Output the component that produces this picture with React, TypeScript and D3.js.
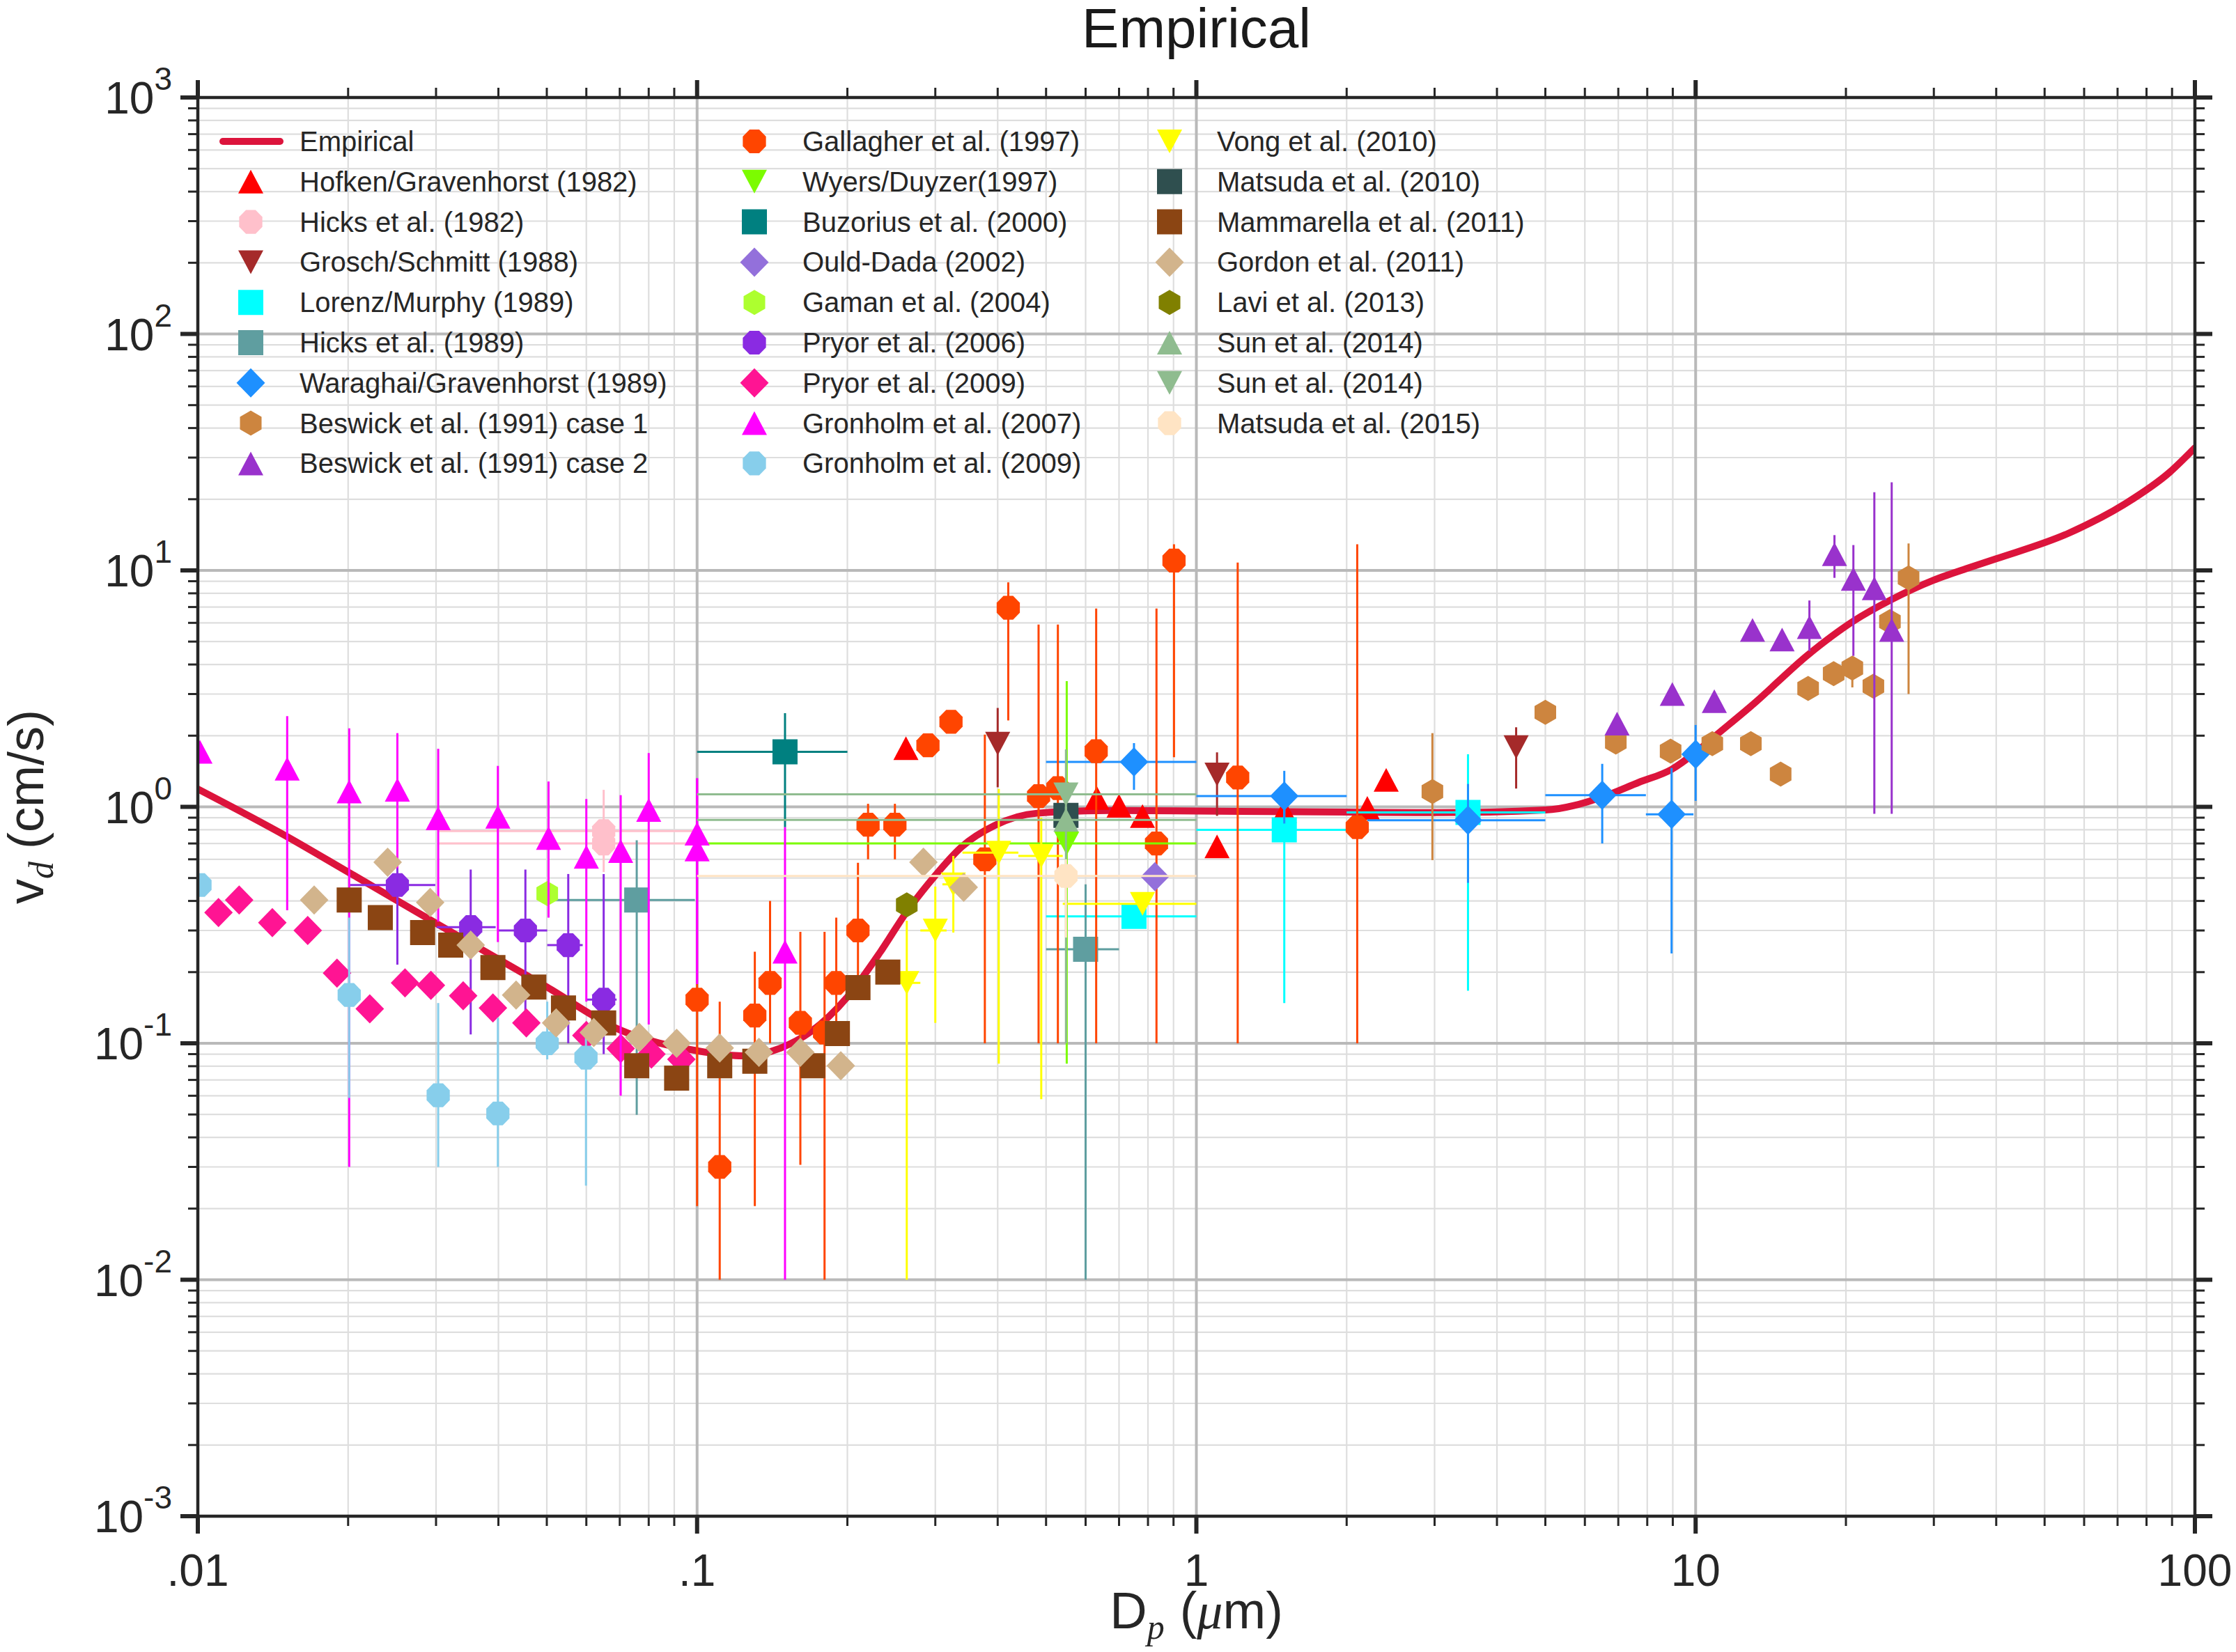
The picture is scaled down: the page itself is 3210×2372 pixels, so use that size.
import React from 'react';
import * as d3 from 'd3';

// ---------- data ----------
type Pt = { d: number; v: number; lo?: number; hi?: number; xl?: number; xr?: number };

const empiricalCurve: [number, number][] = [
  [0.01, 1.19], [0.0151, 0.748], [0.02, 0.53], [0.03, 0.322], [0.05, 0.173], [0.07, 0.114],
  [0.1, 0.093], [0.123, 0.0885], [0.147, 0.0955], [0.169, 0.112], [0.2, 0.157], [0.233, 0.244],
  [0.263, 0.36], [0.297, 0.5], [0.339, 0.678], [0.395, 0.835], [0.48, 0.94], [0.67, 0.965],
  [1, 0.96], [2, 0.95], [3, 0.945], [5, 0.97], [6.5, 1.1], [7.7, 1.27], [8.95, 1.44], [10, 1.7],
  [10.9, 1.98], [13, 2.7], [16.8, 4.4], [20.7, 6.1], [24.6, 7.5], [30, 9.1], [35, 10.2],
  [40, 11.2], [56, 14.4], [73, 19.3], [89, 26], [100, 33],
];

const hofken: Pt[] = [
  { d: 0.262, v: 1.77 }, { d: 0.632, v: 1.09 }, { d: 0.7, v: 1.01 }, { d: 0.78, v: 0.914 },
  { d: 1.1, v: 0.68 }, { d: 1.5, v: 0.96 }, { d: 2.2, v: 0.99 }, { d: 2.4, v: 1.3 },
];
const hicks1982: Pt[] = [
  { d: 0.065, v: 0.79, lo: 0.53, hi: 1.18, xl: 0.0304, xr: 0.1 },
  { d: 0.065, v: 0.7, xl: 0.0304, xr: 0.1 },
];
const grosch: Pt[] = [
  { d: 0.4, v: 1.85, lo: 1.21, hi: 2.62 },
  { d: 1.1, v: 1.37, lo: 0.916, hi: 1.7 },
  { d: 4.37, v: 1.79, lo: 1.195, hi: 2.17 },
];
const lorenz: Pt[] = [
  { d: 0.75, v: 0.344, xl: 0.5, xr: 1.0 },
  { d: 1.5, v: 0.8, lo: 0.148, hi: 1.0, xl: 1.0, xr: 2.0 },
  { d: 3.5, v: 0.947, lo: 0.167, hi: 1.67, xl: 2.0, xr: 5.0 },
];
const hicks1989: Pt[] = [
  { d: 0.0757, v: 0.404, lo: 0.0498, hi: 0.722, xl: 0.0516, xr: 0.099 },
  { d: 0.6, v: 0.25, lo: 0.01, hi: 0.47, xl: 0.5, xr: 0.7 },
];
const waraghai: Pt[] = [
  { d: 0.75, v: 1.55, lo: 1.18, hi: 1.86, xl: 0.5, xr: 1.0 },
  { d: 1.5, v: 1.11, lo: 0.85, hi: 1.42, xl: 1.0, xr: 2.0 },
  { d: 3.5, v: 0.877, lo: 0.477, hi: 1.25, xl: 2.2, xr: 5.0 },
  { d: 6.5, v: 1.12, lo: 0.7, hi: 1.52, xl: 5.0, xr: 7.95 },
  { d: 8.95, v: 0.93, lo: 0.24, hi: 1.46, xl: 7.95, xr: 9.9 },
  { d: 10.0, v: 1.67, lo: 1.06, hi: 2.22 },
];
const beswick1: Pt[] = [
  { d: 2.97, v: 1.16, lo: 0.595, hi: 2.05 }, { d: 5.0, v: 2.51 }, { d: 6.92, v: 1.88 },
  { d: 8.91, v: 1.72 }, { d: 10.8, v: 1.85 }, { d: 12.9, v: 1.85 }, { d: 14.8, v: 1.375 },
  { d: 16.8, v: 3.17 }, { d: 18.9, v: 3.66 }, { d: 20.6, v: 3.86, lo: 3.2, hi: 4.3 },
  { d: 22.7, v: 3.24 }, { d: 24.5, v: 6.07 }, { d: 26.7, v: 9.3, lo: 3.0, hi: 13 },
];
const beswick2: Pt[] = [
  { d: 6.96, v: 2.25 }, { d: 8.98, v: 3.0 }, { d: 10.9, v: 2.8 }, { d: 13.0, v: 5.6 },
  { d: 14.9, v: 5.1 }, { d: 16.9, v: 5.75, lo: 4.56, hi: 7.46 },
  { d: 18.97, v: 11.7, lo: 9.3, hi: 14.1 }, { d: 20.7, v: 9.2, lo: 4.35, hi: 12.8 },
  { d: 22.8, v: 8.4, lo: 0.935, hi: 21.4 }, { d: 24.7, v: 5.6, lo: 0.935, hi: 23.6 },
];
const gallagher: Pt[] = [
  { d: 0.1, v: 0.153, lo: 0.0205, hi: 0.178 }, { d: 0.111, v: 0.03, lo: 0.01, hi: 0.15 },
  { d: 0.1305, v: 0.131, lo: 0.0205, hi: 0.244 }, { d: 0.14, v: 0.18, lo: 0.1, hi: 0.4 },
  { d: 0.161, v: 0.122, lo: 0.0306, hi: 0.296 }, { d: 0.18, v: 0.111, lo: 0.01, hi: 0.296 },
  { d: 0.19, v: 0.18, lo: 0.11, hi: 0.34 }, { d: 0.21, v: 0.3, lo: 0.17, hi: 0.58 },
  { d: 0.22, v: 0.84, lo: 0.6, hi: 1.03 }, { d: 0.249, v: 0.84, lo: 0.6, hi: 1.03 },
  { d: 0.29, v: 1.82 }, { d: 0.3225, v: 2.29 },
  { d: 0.377, v: 0.6, lo: 0.1, hi: 2.02 }, { d: 0.42, v: 6.95, lo: 2.32, hi: 8.9 },
  { d: 0.483, v: 1.11, lo: 0.1, hi: 5.9 }, { d: 0.528, v: 1.2, lo: 0.1, hi: 5.9 },
  { d: 0.63, v: 1.72, lo: 0.1, hi: 6.9 }, { d: 0.832, v: 0.7, lo: 0.1, hi: 6.9 },
  { d: 0.902, v: 11.0, lo: 1.62, hi: 12.9 }, { d: 1.21, v: 1.33, lo: 0.1, hi: 10.8 },
  { d: 2.1, v: 0.82, lo: 0.1, hi: 12.9 },
];
const wyers: Pt[] = [{ d: 0.55, v: 0.7, lo: 0.082, hi: 3.4, xl: 0.1, xr: 1.0 }];
const buzorius: Pt[] = [{ d: 0.15, v: 1.71, lo: 0.82, hi: 2.49, xl: 0.1, xr: 0.2 }];
const ouldDada: Pt[] = [{ d: 0.826, v: 0.507 }];
const gaman: Pt[] = [{ d: 0.0501, v: 0.43 }];
const pryor2006: Pt[] = [
  { d: 0.0251, v: 0.467, lo: 0.215, hi: 0.6, xl: 0.0201, xr: 0.0299 },
  { d: 0.0352, v: 0.31, lo: 0.109, hi: 0.543, xl: 0.0301, xr: 0.0395 },
  { d: 0.0453, v: 0.3, lo: 0.128, hi: 0.543, xl: 0.0399, xr: 0.0501 },
  { d: 0.0552, v: 0.26, lo: 0.1, hi: 0.52, xl: 0.0501, xr: 0.059 },
  { d: 0.065, v: 0.153, lo: 0.09, hi: 0.52, xl: 0.06, xr: 0.069 },
];
const pryor2009: Pt[] = [
  { d: 0.011, v: 0.357 }, { d: 0.0121, v: 0.404 }, { d: 0.0141, v: 0.324 }, { d: 0.0166, v: 0.3 },
  { d: 0.019, v: 0.198 }, { d: 0.0221, v: 0.14 }, { d: 0.026, v: 0.18 }, { d: 0.0293, v: 0.176 },
  { d: 0.034, v: 0.159 }, { d: 0.039, v: 0.141 }, { d: 0.0455, v: 0.122 }, { d: 0.06, v: 0.108 },
  { d: 0.0703, v: 0.095 }, { d: 0.081, v: 0.09 }, { d: 0.093, v: 0.0855 },
];
const gronholm2007: Pt[] = [
  { d: 0.0101, v: 1.71 }, { d: 0.0151, v: 1.45, lo: 0.365, hi: 2.42 },
  { d: 0.0201, v: 1.16, lo: 0.03, hi: 2.15 }, { d: 0.0251, v: 1.18, lo: 0.55, hi: 2.05 },
  { d: 0.0303, v: 0.894, lo: 0.327, hi: 1.76 }, { d: 0.0399, v: 0.908, lo: 0.268, hi: 1.49 },
  { d: 0.0504, v: 0.738, lo: 0.34, hi: 1.28 }, { d: 0.06, v: 0.615, lo: 0.15, hi: 1.08 },
  { d: 0.0703, v: 0.65, lo: 0.06, hi: 1.12 }, { d: 0.08, v: 0.97, lo: 0.12, hi: 1.69 },
  { d: 0.1, v: 0.77, lo: 0.178, hi: 1.32 }, { d: 0.1, v: 0.66, lo: 0.178, hi: 1.32 },
  { d: 0.15, v: 0.244, lo: 0.01, hi: 0.82 },
];
const gronholm2009: Pt[] = [
  { d: 0.0101, v: 0.467 }, { d: 0.0201, v: 0.16, lo: 0.0587, hi: 0.34 },
  { d: 0.0303, v: 0.0603, lo: 0.03, hi: 0.148 }, { d: 0.0399, v: 0.0505, lo: 0.03, hi: 0.128 },
  { d: 0.0501, v: 0.1, lo: 0.0855, hi: 0.15 }, { d: 0.0599, v: 0.087, lo: 0.025, hi: 0.115 },
];
const vong: Pt[] = [
  { d: 0.263, v: 0.18, lo: 0.01, hi: 0.33, xl: 0.25, xr: 0.28 },
  { d: 0.3, v: 0.3, lo: 0.122, hi: 0.46, xl: 0.28, xr: 0.316 },
  { d: 0.326, v: 0.47, lo: 0.294, hi: 0.62, xl: 0.31, xr: 0.344 },
  { d: 0.402, v: 0.64, lo: 0.082, hi: 1.19, xl: 0.34, xr: 0.44 },
  { d: 0.489, v: 0.62, lo: 0.058, hi: 0.9, xl: 0.44, xr: 0.54 },
  { d: 0.78, v: 0.389, xl: 0.54, xr: 1.0 },
];
const matsuda2010: Pt[] = [{ d: 0.548, v: 0.92 }];
const mammarella: Pt[] = [
  { d: 0.0201, v: 0.404 }, { d: 0.0232, v: 0.34 }, { d: 0.0282, v: 0.294 }, { d: 0.0321, v: 0.26 },
  { d: 0.039, v: 0.209 }, { d: 0.0471, v: 0.173 }, { d: 0.054, v: 0.141 }, { d: 0.065, v: 0.122 },
  { d: 0.0757, v: 0.0804 }, { d: 0.091, v: 0.0713 }, { d: 0.111, v: 0.0804 }, { d: 0.1305, v: 0.084 },
  { d: 0.1705, v: 0.0804 }, { d: 0.191, v: 0.11 }, { d: 0.21, v: 0.172 }, { d: 0.241, v: 0.2 },
];
const gordon: Pt[] = [
  { d: 0.0171, v: 0.404 }, { d: 0.024, v: 0.583 }, { d: 0.0292, v: 0.394 }, { d: 0.0352, v: 0.26 },
  { d: 0.0434, v: 0.16 }, { d: 0.0522, v: 0.122 }, { d: 0.0621, v: 0.111 }, { d: 0.0766, v: 0.106 },
  { d: 0.091, v: 0.1 }, { d: 0.111, v: 0.0955 }, { d: 0.133, v: 0.0916 }, { d: 0.161, v: 0.0916 },
  { d: 0.194, v: 0.0804 }, { d: 0.284, v: 0.583 }, { d: 0.342, v: 0.457 },
];
const lavi: Pt[] = [{ d: 0.263, v: 0.385 }];
const sunUp: Pt[] = [{ d: 0.548, v: 0.88, lo: 0.1, hi: 1.0, xl: 0.1, xr: 1.0 }];
const sunDown: Pt[] = [{ d: 0.548, v: 1.13, lo: 0.9, hi: 1.75, xl: 0.1, xr: 1.0 }];
const matsuda2015: Pt[] = [{ d: 0.548, v: 0.51, lo: 0.28, hi: 0.6, xl: 0.1, xr: 1.0 }];

const xTickValues = [0.01, 0.1, 1, 10, 100];
const xTickLabels = ['.01', '.1', '1', '10', '100'];
const yTickExponents = [-3, -2, -1, 0, 1, 2, 3];

type Series = { name: string; color: string; shape: string; data: Pt[] };
const series: Series[] = [
  { name: 'Hofken/Gravenhorst (1982)', color: '#FF0000', shape: '^', data: hofken },
  { name: 'Hicks et al. (1982)', color: '#FFC0CB', shape: 'o', data: hicks1982 },
  { name: 'Grosch/Schmitt (1988)', color: '#A52A2A', shape: 'v', data: grosch },
  { name: 'Lorenz/Murphy (1989)', color: '#00FFFF', shape: 's', data: lorenz },
  { name: 'Hicks et al. (1989)', color: '#5F9EA0', shape: 's', data: hicks1989 },
  { name: 'Waraghai/Gravenhorst (1989)', color: '#1E90FF', shape: 'd', data: waraghai },
  { name: 'Beswick et al. (1991) case 1', color: '#CD853F', shape: 'h', data: beswick1 },
  { name: 'Beswick et al. (1991) case 2', color: '#9932CC', shape: '^', data: beswick2 },
  { name: 'Gallagher et al. (1997)', color: '#FF4500', shape: 'o', data: gallagher },
  { name: 'Wyers/Duyzer(1997)', color: '#7CFC00', shape: 'v', data: wyers },
  { name: 'Buzorius et al. (2000)', color: '#008080', shape: 's', data: buzorius },
  { name: 'Ould-Dada (2002)', color: '#9370DB', shape: 'd', data: ouldDada },
  { name: 'Gaman et al. (2004)', color: '#ADFF2F', shape: 'h', data: gaman },
  { name: 'Pryor et al. (2006)', color: '#8A2BE2', shape: 'o', data: pryor2006 },
  { name: 'Pryor et al. (2009)', color: '#FF1493', shape: 'd', data: pryor2009 },
  { name: 'Gronholm et al. (2007)', color: '#FF00FF', shape: '^', data: gronholm2007 },
  { name: 'Gronholm et al. (2009)', color: '#87CEEB', shape: 'o', data: gronholm2009 },
  { name: 'Vong et al. (2010)', color: '#FFFF00', shape: 'v', data: vong },
  { name: 'Matsuda et al. (2010)', color: '#2F4F4F', shape: 's', data: matsuda2010 },
  { name: 'Mammarella et al. (2011)', color: '#8B4513', shape: 's', data: mammarella },
  { name: 'Gordon et al. (2011)', color: '#D2B48C', shape: 'd', data: gordon },
  { name: 'Lavi et al. (2013)', color: '#808000', shape: 'h', data: lavi },
  { name: 'Sun et al. (2014)', color: '#8FBC8F', shape: '^', data: sunUp },
  { name: 'Sun et al. (2014)', color: '#8FBC8F', shape: 'v', data: sunDown },
  { name: 'Matsuda et al. (2015)', color: '#FFE4C4', shape: 'o', data: matsuda2015 },
];

// ---------- layout ----------
const W = 3210;
const H = 2372;
const L = 284, R = 3151, T = 140, B = 2177;
const TEXT = '#262626';
const FONT = '"Liberation Sans", Arial, Helvetica, sans-serif';
const SERIF = '"Liberation Serif", "DejaVu Serif", serif';

const x = d3.scaleLog().domain([0.01, 100]).range([L, R]);
const y = d3.scaleLog().domain([1e-3, 1e3]).range([B, T]);

function markerPath(shape: string, cx: number, cy: number): string {
  switch (shape) {
    case '^': {
      const w = 36, h = 34;
      return `M${cx},${cy - h / 2}L${cx + w / 2},${cy + h / 2}L${cx - w / 2},${cy + h / 2}Z`;
    }
    case 'v': {
      const w = 36, h = 34;
      return `M${cx},${cy + h / 2}L${cx + w / 2},${cy - h / 2}L${cx - w / 2},${cy - h / 2}Z`;
    }
    case 's': {
      const s = 36;
      return `M${cx - s / 2},${cy - s / 2}h${s}v${s}h${-s}Z`;
    }
    case 'd': {
      const w = 41, h = 42;
      return `M${cx},${cy - h / 2}L${cx + w / 2},${cy}L${cx},${cy + h / 2}L${cx - w / 2},${cy}Z`;
    }
    case 'h': {
      const rx = 15.5, ry = 18;
      return `M${cx},${cy - ry}L${cx + rx},${cy - ry / 2}L${cx + rx},${cy + ry / 2}L${cx},${cy + ry}L${cx - rx},${cy + ry / 2}L${cx - rx},${cy - ry / 2}Z`;
    }
    default: {
      const rx = 18, ry = 18.5;
      const pts: string[] = [];
      for (let k = 0; k < 8; k++) {
        const a = Math.PI / 8 + (k * Math.PI) / 4;
        pts.push(`${cx + rx * Math.cos(a)},${cy + ry * Math.sin(a)}`);
      }
      return 'M' + pts.join('L') + 'Z';
    }
  }
}

const minorX: number[] = [];
for (let e = -2; e < 2; e++) for (let k = 2; k < 10; k++) minorX.push(k * Math.pow(10, e));
const minorY: number[] = [];
for (let e = -3; e < 3; e++) for (let k = 2; k < 10; k++) minorY.push(k * Math.pow(10, e));
const majorX = xTickValues;
const majorY = yTickExponents.map((e) => Math.pow(10, e));

const legendRowY = (i: number) => 203 + i * 57.8;
const legendCols = [
  { mx: 360, tx: 430 },
  { mx: 1083, tx: 1152 },
  { mx: 1679, tx: 1747 },
];

export default function App() {
  const line = d3
    .line<[number, number]>()
    .x((d) => x(d[0]))
    .y((d) => y(d[1]))
    .curve(d3.curveMonotoneX);

  const legendItems: { kind: 'line' | 'marker'; s?: Series; name: string; col: number; row: number }[] = [];
  legendItems.push({ kind: 'line', name: 'Empirical', col: 0, row: 0 });
  series.forEach((s, i) => {
    const idx = i + 1;
    legendItems.push({ kind: 'marker', s, name: s.name, col: Math.floor(idx / 9), row: idx % 9 });
  });

  return (
    <svg
      width={W}
      height={H}
      viewBox={`0 0 ${W} ${H}`}
      style={{ position: 'absolute', left: 0, top: 0, display: 'block', background: '#fff' }}
      fontFamily={FONT}
    >
      <defs>
        <clipPath id="plotClip">
          <rect x={L} y={T} width={R - L} height={B - T} />
        </clipPath>
      </defs>
      <rect x={0} y={0} width={W} height={H} fill="#fff" />

      {/* grid */}
      <g>
        {minorX.map((v, i) => (
          <line key={'mx' + i} x1={x(v)} x2={x(v)} y1={T} y2={B} stroke="#dedede" strokeWidth={2.2} />
        ))}
        {minorY.map((v, i) => (
          <line key={'my' + i} x1={L} x2={R} y1={y(v)} y2={y(v)} stroke="#dedede" strokeWidth={2.2} />
        ))}
        {majorX.map((v, i) => (
          <line key={'Mx' + i} x1={x(v)} x2={x(v)} y1={T} y2={B} stroke="#b9b9b9" strokeWidth={4} />
        ))}
        {majorY.map((v, i) => (
          <line key={'My' + i} x1={L} x2={R} y1={y(v)} y2={y(v)} stroke="#b9b9b9" strokeWidth={4} />
        ))}
      </g>

      {/* legend */}
      <g>
        {legendItems.map((it, i) => {
          const c = legendCols[it.col];
          const ry = legendRowY(it.row);
          return (
            <g key={'lg' + i}>
              {it.kind === 'line' ? (
                <line x1={320} x2={402} y1={ry} y2={ry} stroke="#DC143C" strokeWidth={10} strokeLinecap="round" />
              ) : (
                <path d={markerPath(it.s!.shape, c.mx, ry)} fill={it.s!.color} />
              )}
              <text x={c.tx} y={ry + 14} fontSize={40} fill={TEXT}>
                {it.name}
              </text>
            </g>
          );
        })}
      </g>

      {/* data */}
      <g clipPath="url(#plotClip)">
        <path d={line(empiricalCurve) || ''} fill="none" stroke="#DC143C" strokeWidth={10} strokeLinecap="round" strokeLinejoin="round" />
        {series.map((s, si) => (
          <g key={'s' + si}>
            {s.data.map((p, pi) => (
              <g key={'e' + pi}>
                {p.lo !== undefined && p.hi !== undefined && (
                  <line x1={x(p.d)} x2={x(p.d)} y1={y(p.lo)} y2={y(p.hi)} stroke={s.color} strokeWidth={3} />
                )}
                {p.xl !== undefined && p.xr !== undefined && (
                  <line x1={x(p.xl)} x2={x(p.xr)} y1={y(p.v)} y2={y(p.v)} stroke={s.color} strokeWidth={3} />
                )}
              </g>
            ))}
            {s.data.map((p, pi) => (
              <path key={'m' + pi} d={markerPath(s.shape, x(p.d), y(p.v))} fill={s.color} />
            ))}
          </g>
        ))}
      </g>

      {/* axes box */}
      <rect x={L} y={T} width={R - L} height={B - T} fill="none" stroke={TEXT} strokeWidth={4.5} />

      {/* ticks */}
      <g stroke={TEXT}>
        {minorX.map((v, i) => (
          <g key={'tmx' + i}>
            <line x1={x(v)} x2={x(v)} y1={B} y2={B + 14} strokeWidth={3} />
            <line x1={x(v)} x2={x(v)} y1={T} y2={T - 14} strokeWidth={3} />
          </g>
        ))}
        {majorX.map((v, i) => (
          <g key={'tMx' + i}>
            <line x1={x(v)} x2={x(v)} y1={B} y2={B + 25} strokeWidth={6} />
            <line x1={x(v)} x2={x(v)} y1={T} y2={T - 25} strokeWidth={6} />
          </g>
        ))}
        {minorY.map((v, i) => (
          <g key={'tmy' + i}>
            <line x1={L} x2={L - 14} y1={y(v)} y2={y(v)} strokeWidth={3} />
            <line x1={R} x2={R + 14} y1={y(v)} y2={y(v)} strokeWidth={3} />
          </g>
        ))}
        {majorY.map((v, i) => (
          <g key={'tMy' + i}>
            <line x1={L} x2={L - 25} y1={y(v)} y2={y(v)} strokeWidth={6} />
            <line x1={R} x2={R + 25} y1={y(v)} y2={y(v)} strokeWidth={6} />
          </g>
        ))}
      </g>

      {/* tick labels */}
      <g fill={TEXT}>
        {xTickValues.map((v, i) => (
          <text key={'xl' + i} x={x(v)} y={2277} fontSize={64} textAnchor="middle">
            {xTickLabels[i]}
          </text>
        ))}
        {yTickExponents.map((e, i) => (
          <text key={'yl' + i} x={247} y={y(Math.pow(10, e)) + 23} fontSize={64} textAnchor="end">
            <tspan>10</tspan>
            <tspan fontSize={46} dy={-34}>{String(e)}</tspan>
          </text>
        ))}
      </g>

      {/* axis labels */}
      <text x={(L + R) / 2} y={2338} fontSize={74} textAnchor="middle" fill={TEXT}>
        <tspan>D</tspan>
        <tspan fontFamily={SERIF} fontStyle="italic" fontSize={50} dy={15}>p</tspan>
        <tspan dy={-15} dx={22}>(</tspan>
        <tspan fontFamily={SERIF} fontStyle="italic">μ</tspan>
        <tspan>m)</tspan>
      </text>
      <text transform={`translate(62,${(T + B) / 2}) rotate(-90)`} fontSize={72} textAnchor="middle" fill={TEXT}>
        <tspan>v</tspan>
        <tspan fontFamily={SERIF} fontStyle="italic" fontSize={50} dy={14}>d</tspan>
        <tspan dy={-14} dx={18}>(cm/s)</tspan>
      </text>

      {/* title */}
      <text x={(L + R) / 2} y={68} fontSize={80} textAnchor="middle" fill="#1a1a1a">
        Empirical
      </text>
    </svg>
  );
}
